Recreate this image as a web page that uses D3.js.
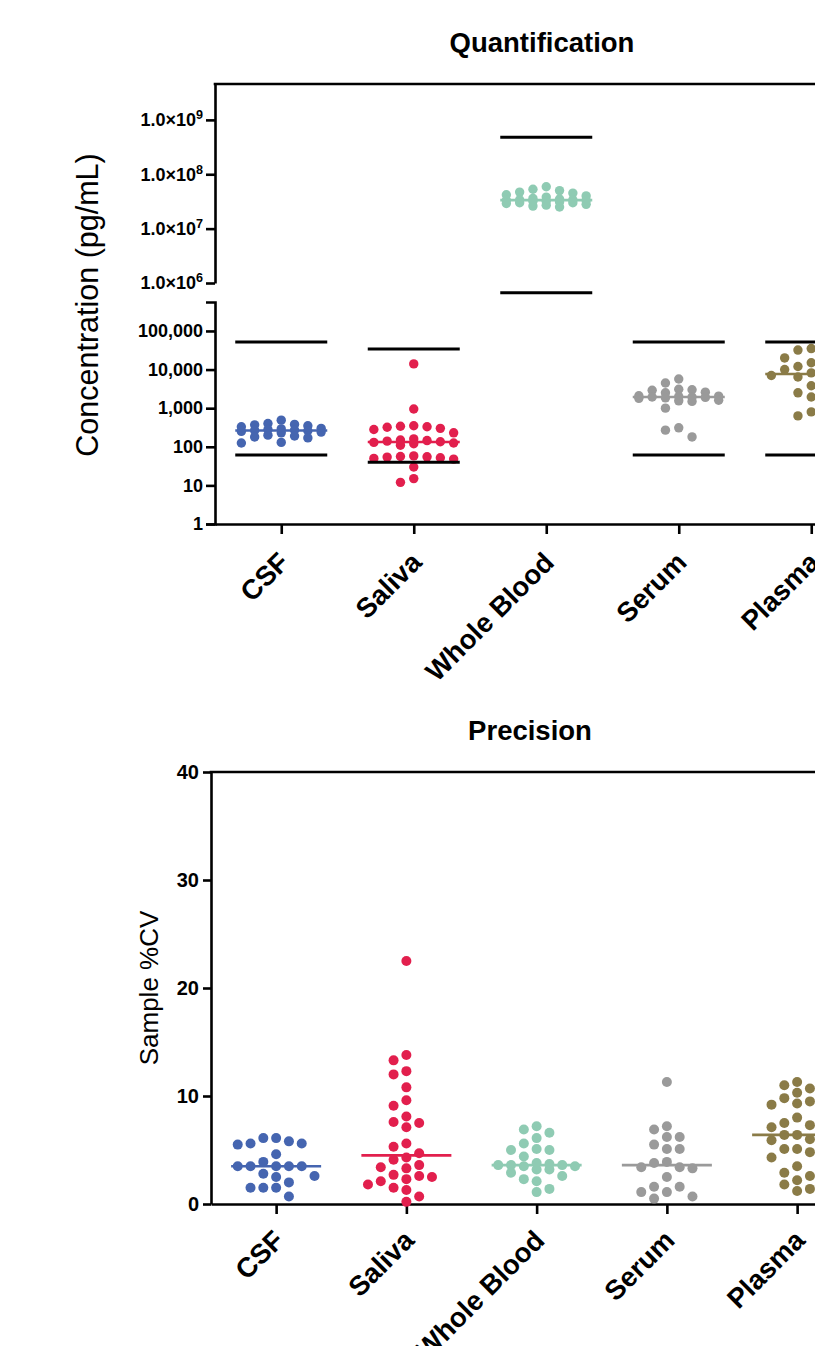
<!DOCTYPE html>
<html>
<head>
<meta charset="utf-8">
<title>Quantification / Precision</title>
<style>
  body { margin: 0; background: #fff; overflow: hidden; }
  svg { display: block; font-family: "Liberation Sans", Arial, sans-serif; }
</style>
</head>
<body>
<svg id="viz" width="815" height="1346"></svg>
<script src="https://cdn.jsdelivr.net/npm/d3@7/dist/d3.min.js"></script>
<script>
// sample types and their colours
var categories = ["CSF", "Saliva", "Whole Blood", "Serum", "Plasma"];
var colors = ["#4565b0", "#e21f4d", "#8fcbb3", "#9a9a9a", "#8a7b47"];

// Quantification (pg/mL)
var quantCSF = [490, 400, 380, 370, 350, 330, 300, 290, 280, 270, 265, 260, 250, 240, 230, 200, 190, 180, 170, 130, 125];
var quantSaliva = [14000, 950, 350, 340, 330, 320, 300, 280, 230, 160, 150, 145, 140, 135, 130, 125, 120, 110, 58, 56, 55, 54, 52, 50, 48, 30, 15, 12];
var quantWholeBlood = [5.9e7, 5.3e7, 5.0e7, 4.7e7, 4.5e7, 4.2e7, 4.0e7, 3.8e7, 3.6e7, 3.5e7, 3.4e7, 3.4e7, 3.3e7, 3.3e7, 3.2e7, 3.2e7, 3.1e7, 3.0e7, 3.0e7, 2.9e7, 2.8e7, 2.7e7, 2.6e7, 2.5e7];
var quantSerum = [5700, 4500, 3100, 3000, 2900, 2600, 2500, 2100, 2050, 2000, 1950, 1950, 1900, 1850, 1800, 1600, 1550, 1500, 1000, 310, 270, 180];
var quantPlasma = [35000, 32000, 24000, 20000, 15000, 12000, 10000, 10000, 8200, 7700, 7000, 6400, 5000, 3800, 2500, 1950, 1700, 800, 630];
// upper / lower quantifiable limits (black bars)
var quantUpper = [52000, 34000, 4.8e8, 52000, 52000];
var quantLower = [61, 40, 6.6e5, 61, 61];
var quantTicksLow = [1, 10, 100, 1000, 10000, 100000];
var quantTicksHigh = [1e6, 1e7, 1e8, 1e9];

// Precision (%CV)
var cvCSF = [6.1, 6.1, 5.8, 5.6, 5.6, 5.5, 4.6, 3.9, 3.5, 3.5, 3.5, 3.5, 3.5, 2.8, 2.6, 2.5, 2.0, 1.5, 1.5, 1.5, 0.7];
var cvSaliva = [22.5, 13.8, 13.3, 12.3, 12.0, 10.8, 9.6, 9.1, 8.1, 7.6, 7.5, 7.1, 5.6, 5.3, 4.7, 4.3, 4.1, 3.6, 3.4, 3.3, 2.7, 2.6, 2.5, 2.3, 2.1, 1.8, 1.5, 1.3, 0.7, 0.2];
var cvWholeBlood = [7.2, 6.9, 6.6, 6.1, 5.6, 5.1, 5.0, 5.0, 4.4, 3.8, 3.7, 3.6, 3.6, 3.6, 3.5, 3.5, 3.2, 3.2, 2.9, 2.6, 2.3, 2.1, 1.4, 1.1];
var cvSerum = [11.3, 7.2, 6.9, 6.2, 6.2, 5.5, 5.1, 5.1, 3.9, 3.8, 3.4, 3.4, 3.3, 2.5, 1.6, 1.6, 1.1, 1.1, 0.7, 0.5];
var cvPlasma = [11.3, 11.0, 10.7, 10.3, 9.8, 9.5, 9.3, 9.2, 8.0, 7.5, 7.3, 7.1, 6.4, 6.4, 6.0, 5.9, 5.1, 5.1, 4.8, 4.3, 3.5, 2.9, 2.6, 2.2, 1.8, 1.4, 1.2];
var cvTicks = [0, 10, 20, 30, 40];

var quantData = [quantCSF, quantSaliva, quantWholeBlood, quantSerum, quantPlasma];
var cvData = [cvCSF, cvSaliva, cvWholeBlood, cvSerum, cvPlasma];

var svg = d3.select("#viz");

// scatter dot layout: columns at fixed spacing, fill the most central free column
function swarm(values, yFn, cx, step, minGap, maxK) {
  var pts = values.map(function (v) { return { v: v, y: yFn(v) }; })
    .sort(function (a, b) { return a.y - b.y; });
  var order = [0];
  for (var k = 1; k <= maxK; k++) order.push(-k, k);
  var last = {};
  pts.forEach(function (p) {
    var best = 0, bestGap = -Infinity;
    for (var i = 0; i < order.length; i++) {
      var c = order[i];
      var gap = last[c] === undefined ? Infinity : p.y - last[c];
      if (gap >= minGap) { best = c; break; }
      if (gap > bestGap) { bestGap = gap; best = c; }
    }
    last[best] = p.y;
    p.x = cx + best * step;
  });
  return pts;
}

function styleAxis(a, size) {
  a.attr("font-family", null).attr("font-size", size).attr("font-weight", "bold");
  a.select(".domain").attr("stroke-width", 2.6);
  a.selectAll(".tick line").attr("stroke-width", 2.6);
  a.selectAll(".tick text").attr("fill", "#000");
}

// ---------------- Quantification ----------------
var qLeft = 215, qBottom = 524;
var xQ = d3.scalePoint().domain(categories).range([qLeft, qLeft + 5 * 132.5]).padding(0.5);
var yHigh = d3.scaleLog().domain([1e6, Math.pow(10, 9.66)]).range([283, 84]);
var yLow = d3.scaleLog().domain([1, Math.pow(10, 5.75)]).range([qBottom, 302]);
function yQ(v) { return v >= 3e5 ? yHigh(v) : yLow(v); }

var gq = svg.append("g");

gq.append("text")
  .attr("x", 542).attr("y", 52)
  .attr("text-anchor", "middle")
  .attr("font-size", 27.5).attr("font-weight", "bold")
  .text("Quantification");

gq.append("text")
  .attr("transform", "translate(98,305) rotate(-90)")
  .attr("text-anchor", "middle")
  .attr("font-size", 30.5)
  .text("Concentration (pg/mL)");

// top frame line
gq.append("line")
  .attr("x1", qLeft - 1.3).attr("x2", 900)
  .attr("y1", 84).attr("y2", 84)
  .attr("stroke", "#000").attr("stroke-width", 2.6);

gq.append("g")
  .attr("transform", "translate(" + qLeft + ",0)")
  .call(d3.axisLeft(yHigh).tickValues(quantTicksHigh).tickSize(9).tickSizeOuter(0).tickPadding(3)
    .tickFormat(function () { return ""; }))
  .call(function (a) { styleAxis(a, 18); })
  .call(function (a) {
    a.selectAll(".tick text").each(function (d) {
      var t = d3.select(this);
      t.append("tspan").text("1.0\u00d710");
      t.append("tspan").attr("dy", "-0.55em").attr("font-size", "0.7em")
        .text(Math.round(Math.log10(d)));
    });
  });

gq.append("g")
  .attr("transform", "translate(" + qLeft + ",0)")
  .call(d3.axisLeft(yLow).tickValues(quantTicksLow).tickSize(9).tickSizeOuter(9).tickPadding(3)
    .tickFormat(d3.format(",")))
  .call(function (a) { styleAxis(a, 18); });

gq.append("g")
  .attr("transform", "translate(0," + qBottom + ")")
  .call(d3.axisBottom(xQ).tickSize(10).tickSizeOuter(0))
  .call(function (a) { styleAxis(a, 27.5); })
  .call(function (a) {
    a.selectAll(".tick text")
      .attr("y", 0).attr("dy", 0)
      .attr("text-anchor", "end")
      .attr("transform", "translate(9,40) rotate(-45)");
  });

categories.forEach(function (c, i) {
  var cx = xQ(c);
  var pts = swarm(quantData[i], yQ, cx, 13.3, 9.5, 3);
  gq.append("g").selectAll("circle")
    .data(pts).join("circle")
    .attr("cx", function (d) { return d.x; })
    .attr("cy", function (d) { return d.y; })
    .attr("r", 4.7)
    .attr("fill", colors[i]);
  var med = d3.median(quantData[i]);
  gq.append("line")
    .attr("x1", cx - 46).attr("x2", cx + 46)
    .attr("y1", yQ(med)).attr("y2", yQ(med))
    .attr("stroke", colors[i]).attr("stroke-width", 2.6);
  [quantUpper[i], quantLower[i]].forEach(function (v) {
    gq.append("line")
      .attr("x1", cx - 46).attr("x2", cx + 46)
      .attr("y1", yQ(v)).attr("y2", yQ(v))
      .attr("stroke", "#000").attr("stroke-width", 3);
  });
});

// ---------------- Precision ----------------
var pLeft = 211, pBottom = 1204;
var xP = d3.scalePoint().domain(categories).range([pLeft, pLeft + 5 * 130.25]).padding(0.5);
var yP = d3.scaleLinear().domain([0, 40]).range([pBottom, 772]);

var gp = svg.append("g");

gp.append("text")
  .attr("x", 530).attr("y", 740)
  .attr("text-anchor", "middle")
  .attr("font-size", 27.5).attr("font-weight", "bold")
  .text("Precision");

gp.append("text")
  .attr("transform", "translate(158,988) rotate(-90)")
  .attr("text-anchor", "middle")
  .attr("font-size", 26)
  .text("Sample %CV");

gp.append("line")
  .attr("x1", pLeft - 1.3).attr("x2", 900)
  .attr("y1", 772).attr("y2", 772)
  .attr("stroke", "#000").attr("stroke-width", 2.6);

gp.append("g")
  .attr("transform", "translate(" + pLeft + ",0)")
  .call(d3.axisLeft(yP).tickValues(cvTicks).tickSize(8).tickSizeOuter(0).tickPadding(4))
  .call(function (a) { styleAxis(a, 20); });

gp.append("g")
  .attr("transform", "translate(0," + pBottom + ")")
  .call(d3.axisBottom(xP).tickSize(10).tickSizeOuter(0))
  .call(function (a) { styleAxis(a, 27.5); })
  .call(function (a) {
    a.selectAll(".tick text")
      .attr("y", 0).attr("dy", 0)
      .attr("text-anchor", "end")
      .attr("transform", "translate(9,38) rotate(-45)");
  });

categories.forEach(function (c, i) {
  var cx = xP(c);
  var pts = swarm(cvData[i], yP, cx, 12.8, 10.5, 3);
  gp.append("g").selectAll("circle")
    .data(pts).join("circle")
    .attr("cx", function (d) { return d.x; })
    .attr("cy", function (d) { return d.y; })
    .attr("r", 5)
    .attr("fill", colors[i]);
  var med = d3.median(cvData[i]);
  gp.append("line")
    .attr("x1", cx - 45).attr("x2", cx + 45)
    .attr("y1", yP(med)).attr("y2", yP(med))
    .attr("stroke", colors[i]).attr("stroke-width", 2.6);
});
</script>
</body>
</html>
